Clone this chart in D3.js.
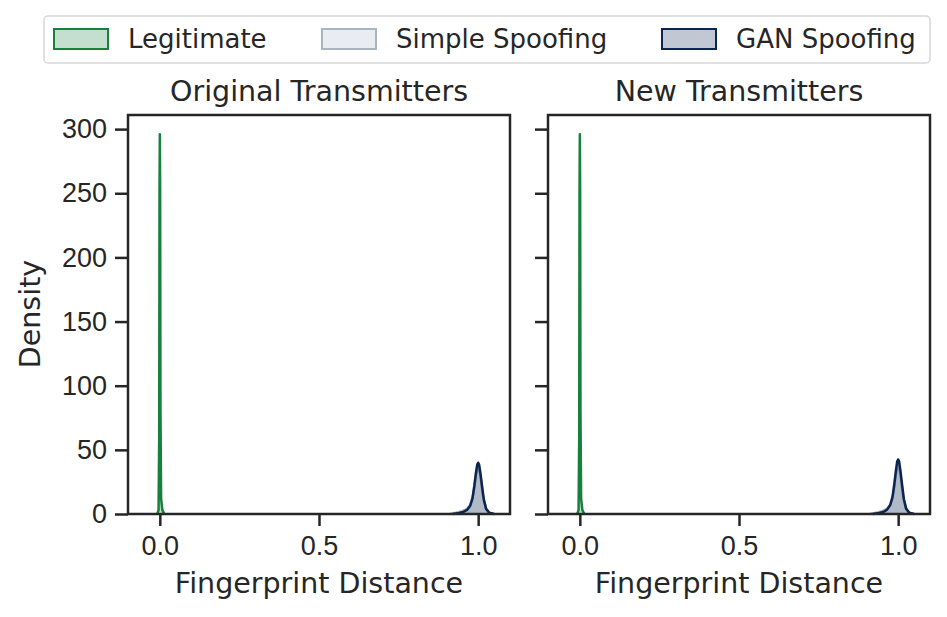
<!DOCTYPE html>
<html>
<head>
<meta charset="utf-8">
<script src="https://cdn.jsdelivr.net/npm/d3@7"></script>
<style>
  body { margin: 0; background: #fff; }
  svg { font-family: "DejaVu Sans", sans-serif; }
</style>
</head>
<body>
<svg width="947" height="617"></svg>
<script>
// ---- data ----
var panelTitles = ["Original Transmitters", "New Transmitters"];
var seriesNames = ["Legitimate", "Simple Spoofing", "GAN Spoofing"];
var seriesStroke = ["#17803d", "#a9b5c3", "#0b2550"];
var xTicks = [0.0, 0.5, 1.0];
var yTicks = [0, 50, 100, 150, 200, 250, 300];

// KDE curves (x = fingerprint distance, y = density)
var legitX = [-0.008, -0.004, -0.002, -0.001, 0.0, 0.001, 0.002, 0.004, 0.008, 0.014];
var legitOrigY = [0, 3, 60, 250, 296, 250, 80, 12, 3, 0];
var legitNewY  = [0, 3, 60, 250, 296, 250, 80, 12, 3, 0];

var simpleX = [0.91, 0.93, 0.95, 0.965, 0.975, 0.985, 0.993, 1.0, 1.007, 1.015, 1.025, 1.035, 1.05];
var simpleOrigY = [0, 1.0, 2.2, 4.0, 7.0, 16, 30, 37, 30, 14, 4, 1, 0];
var simpleNewY  = [0, 1.0, 2.2, 4.0, 7.0, 16, 31, 39, 31, 14, 4, 1, 0];

var ganX = [0.92, 0.94, 0.955, 0.965, 0.975, 0.982, 0.988, 0.993, 0.997, 1.0, 1.003, 1.007, 1.012, 1.018, 1.025, 1.035, 1.05];
var ganOrigY = [0, 0.8, 1.8, 3.2, 6.5, 12, 22, 32, 38.5, 40, 38.5, 32, 22, 11, 4, 1, 0];
var ganNewY  = [0, 0.8, 1.8, 3.4, 7.0, 13, 23.5, 34, 41, 42.5, 41, 34, 23.5, 11.5, 4.2, 1, 0];

var curveX = [legitX, simpleX, ganX];
var curveY = [
  [legitOrigY, simpleOrigY, ganOrigY],
  [legitNewY, simpleNewY, ganNewY]
];

// ---- layout ----
var svg = d3.select("svg");
var ink = "#262626";
var panelLeft = [128, 548];
var panelW = 382, plotTop = 115, plotBottom = 514;

var y = d3.scaleLinear().domain([0, 311]).range([plotBottom, plotTop]);

panelTitles.forEach(function(title, p) {
  var x = d3.scaleLinear().domain([-0.1, 1.1]).range([panelLeft[p], panelLeft[p] + panelW]);
  var g = svg.append("g");

  var area = d3.area()
    .x(function(d) { return x(d[0]); })
    .y0(y(0))
    .y1(function(d) { return y(d[1]); });
  var line = d3.line()
    .x(function(d) { return x(d[0]); })
    .y(function(d) { return y(d[1]); });

  seriesNames.forEach(function(name, s) {
    var pts = d3.zip(curveX[s], curveY[p][s]);
    g.append("path")
      .attr("d", area(pts))
      .attr("fill", seriesStroke[s])
      .attr("fill-opacity", 0.25)
      .attr("stroke", "none");
    g.append("path")
      .attr("d", line(pts))
      .attr("fill", "none")
      .attr("stroke", seriesStroke[s])
      .attr("stroke-width", 2.5)
      .attr("stroke-linejoin", "round");
  });

  // axes
  var xAxis = d3.axisBottom(x).tickValues(xTicks).tickFormat(d3.format(".1f")).tickSize(12).tickPadding(5);
  var gx = g.append("g").attr("transform", "translate(0," + plotBottom + ")").call(xAxis);
  var yAxis = d3.axisLeft(y).tickValues(yTicks).tickSize(13).tickPadding(8)
    .tickFormat(p === 0 ? d3.format("d") : function() { return ""; });
  var gy = g.append("g").attr("transform", "translate(" + panelLeft[p] + ",0)").call(yAxis);

  [gx, gy].forEach(function(a) {
    a.select(".domain").remove();
    a.selectAll(".tick line").attr("stroke", ink).attr("stroke-width", 2.5);
    a.selectAll(".tick text").attr("fill", ink).style("font-size", "27px");
  });
  gx.selectAll(".tick text").attr("dy", "0.9em");

  // frame
  g.append("rect")
    .attr("x", panelLeft[p]).attr("y", plotTop)
    .attr("width", panelW).attr("height", plotBottom - plotTop)
    .attr("fill", "none").attr("stroke", ink).attr("stroke-width", 2.5);

  g.append("text")
    .attr("x", panelLeft[p] + panelW / 2).attr("y", 101)
    .attr("text-anchor", "middle").attr("fill", ink)
    .style("font-size", "28.5px").text(title);

  g.append("text")
    .attr("x", panelLeft[p] + panelW / 2).attr("y", 593)
    .attr("text-anchor", "middle").attr("fill", ink)
    .style("font-size", "28.5px").text("Fingerprint Distance");
});

svg.append("text")
  .attr("transform", "translate(40,314) rotate(-90)")
  .attr("text-anchor", "middle").attr("fill", ink)
  .style("font-size", "28.5px").text("Density");

// legend
var legend = svg.append("g");
legend.append("rect")
  .attr("x", 44).attr("y", 16).attr("width", 886).attr("height", 47)
  .attr("rx", 4).attr("fill", "#fff").attr("stroke", "#d6d6d6").attr("stroke-width", 1.5);
var legendX = [54, 322, 662];
seriesNames.forEach(function(name, s) {
  legend.append("rect")
    .attr("x", legendX[s]).attr("y", 29).attr("width", 54).attr("height", 20)
    .attr("fill", seriesStroke[s]).attr("fill-opacity", 0.25)
    .attr("stroke", seriesStroke[s]).attr("stroke-width", 2);
  legend.append("text")
    .attr("x", legendX[s] + 74).attr("y", 48)
    .attr("fill", ink).style("font-size", "26px").text(name);
});
</script>
</body>
</html>
